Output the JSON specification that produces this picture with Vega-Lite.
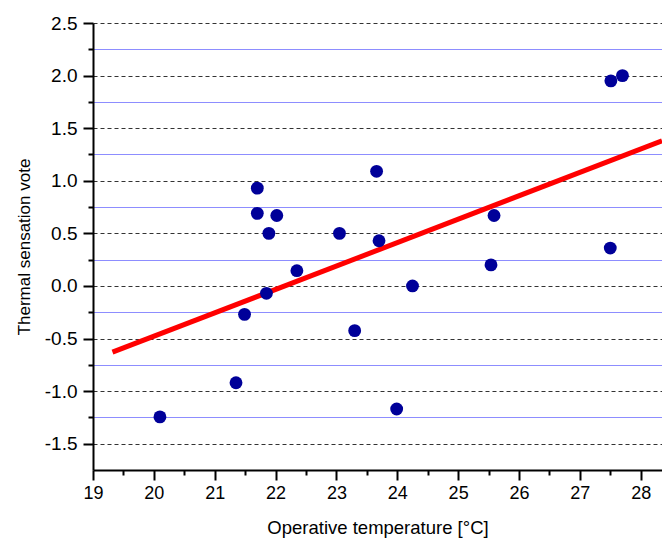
{
  "$schema": "https://vega.github.io/schema/vega-lite/v6.json",
  "width": 569,
  "height": 447,
  "autosize": {"type": "none"},
  "padding": {"left": 93, "top": 23, "right": 0, "bottom": 73},
  "background": "white",
  "config": {
    "view": {"stroke": null},
    "font": "Liberation Sans",
    "axis": {
      "domainColor": "black",
      "domainWidth": 2,
      "tickColor": "black",
      "tickWidth": 2,
      "labelColor": "black",
      "titleColor": "black",
      "labelFont": "Liberation Sans",
      "titleFont": "Liberation Sans",
      "labelFontSize": 18,
      "titleFontSize": 17,
      "titleFontWeight": "normal"
    }
  },
  "datasets": {
    "points": [
      {"temp": 20.10, "vote": -1.245},
      {"temp": 21.35, "vote": -0.92},
      {"temp": 21.49, "vote": -0.27},
      {"temp": 21.70, "vote": 0.93},
      {"temp": 21.70, "vote": 0.69},
      {"temp": 21.89, "vote": 0.50},
      {"temp": 22.02, "vote": 0.67},
      {"temp": 21.85, "vote": -0.07},
      {"temp": 22.35, "vote": 0.145},
      {"temp": 23.05, "vote": 0.50},
      {"temp": 23.30, "vote": -0.425},
      {"temp": 23.66, "vote": 1.09},
      {"temp": 23.70, "vote": 0.43},
      {"temp": 23.99, "vote": -1.17},
      {"temp": 24.25, "vote": 0.0},
      {"temp": 25.54, "vote": 0.20},
      {"temp": 25.59, "vote": 0.67},
      {"temp": 27.50, "vote": 0.36},
      {"temp": 27.51, "vote": 1.95},
      {"temp": 27.70, "vote": 2.0}
    ],
    "fit": [
      {"temp": 19.32, "vote": -0.63},
      {"temp": 28.35, "vote": 1.38}
    ]
  },
  "encoding": {
    "x": {
      "field": "temp",
      "type": "quantitative",
      "scale": {"domain": [19, 28.35], "nice": false, "zero": false},
      "axis": {
        "title": "Operative temperature [°C]",
        "titleFontSize": 18.5,
        "values": [19, 19.5, 20, 20.5, 21, 21.5, 22, 22.5, 23, 23.5, 24, 24.5, 25, 25.5, 26, 26.5, 27, 27.5, 28],
        "labelExpr": "datum.value % 1 === 0 ? toString(datum.value) : ''",
        "grid": false,
        "tickSize": {"condition": {"test": "datum.value % 1 === 0", "value": 10}, "value": 5},
        "labelPadding": 4,
        "titlePadding": 16,
        "labelFlush": false
      }
    },
    "y": {
      "field": "vote",
      "type": "quantitative",
      "scale": {"domain": [-1.75, 2.5], "nice": false, "zero": false},
      "axis": {
        "title": "Thermal sensation vote",
        "titleFontSize": 17,
        "labelFontSize": 19,
        "values": [-1.5, -1.25, -1, -0.75, -0.5, -0.25, 0, 0.25, 0.5, 0.75, 1, 1.25, 1.5, 1.75, 2, 2.25, 2.5],
        "labelExpr": "abs(datum.value*2 - round(datum.value*2)) < 0.01 ? replace(format(datum.value, '.1f'), '\u2212', '-') : ''",
        "grid": true,
        "gridWidth": 1,
        "gridColor": {"condition": {"test": "abs(datum.value*2 - round(datum.value*2)) < 0.01", "value": "#333333"}, "value": "#1a1aff"},
        "gridDash": {"condition": {"test": "abs(datum.value*2 - round(datum.value*2)) < 0.01", "value": [4, 3]}, "value": [1, 1]},
        "tickSize": {"condition": {"test": "abs(datum.value*2 - round(datum.value*2)) < 0.01", "value": 10}, "value": 5},
        "labelPadding": 6,
        "titlePadding": 11,
        "labelFlush": false
      }
    }
  },
  "layer": [
    {
      "data": {"name": "fit"},
      "mark": {"type": "line", "color": "#ff0000", "strokeWidth": 5, "clip": true}
    },
    {
      "data": {"name": "points"},
      "mark": {"type": "point", "filled": true, "size": 165, "color": "#000099", "opacity": 1}
    }
  ]
}
